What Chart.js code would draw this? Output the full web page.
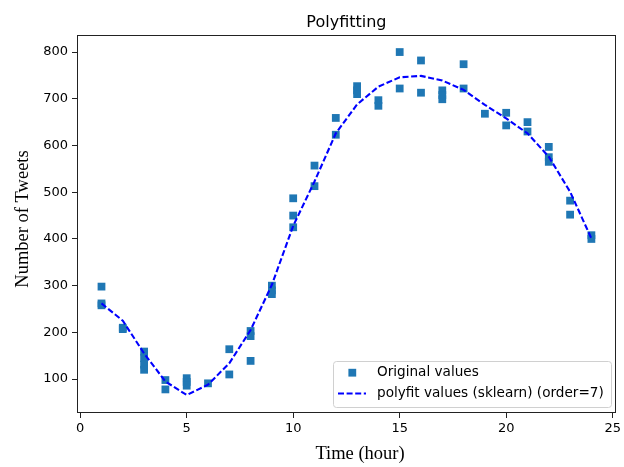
<!DOCTYPE html>
<html>
<head>
<meta charset="utf-8">
<script src="https://cdn.jsdelivr.net/npm/chart.js@4/dist/chart.umd.min.js"></script>
<style>
  html, body { margin: 0; padding: 0; background: #fff; }
  #wrap { width: 624px; height: 467px; position: relative; }
</style>
</head>
<body>
<div id="wrap"><canvas id="c" width="624" height="467"></canvas></div>
<script>
// ---- data ----
const chartTitle = "Polyfitting";
const xAxisLabel = "Time (hour)";
const yAxisLabel = "Number of Tweets";
const obsLabel = "Original values";
const fitLabel = "polyfit values (sklearn) (order=7)";

const obsHours = [
  1,1,1, 2,2, 3,3,3,3, 4,4, 5,5,5, 6, 7,7, 8,8,8, 9,9,9, 10,10,10,
  11,11, 12,12, 13,13,13, 14,14, 15,15, 16,16, 17,17,17, 18,18, 19,
  20,20, 21,21, 22,22,22, 23,23, 24,24
];
const obsTweets = [
  298,262,258, 210,207, 159,145,131,120, 98,78, 102,94,86, 91, 164,110, 203,192,139, 300,290,282, 487,450,425,
  557,513, 659,623, 727,718,710, 697,685, 800,722, 782,713, 718,708,699, 774,722, 668,
  670,643, 650,630, 597,575,565, 482,452, 408,400
];

const fitHours = [1,2,3,4,5,6,7,8,9,10,11,12,13,14,15,16,17,18,19,20,21,22,23,24];
const fitTweets = [262,225,155,95,66,88,134,205,302,428,523,626,688,726,746,749,739,719,687,658,626,576,501,401];

const xTicks = [0,5,10,15,20,25];
const yTicks = [100,200,300,400,500,600,700,800];
const xMin = -0.15, xMax = 25.15;
const yMin = 27.5, yMax = 836.5;

// ---- styles ----
const obsColor = '#1f77b4';
const fitColor = '#0000ff';
const tickFont = { family: 'DejaVu Sans', size: 13 };

const decorPlugin = {
  id: 'decor',
  afterDraw(chart) {
    const ctx = chart.ctx;
    const a = chart.chartArea;
    ctx.save();
    // frame
    ctx.strokeStyle = '#222';
    ctx.lineWidth = 1;
    ctx.strokeRect(Math.round(a.left) + 0.5, Math.round(a.top) + 0.5,
                   Math.round(a.right - a.left) - 1, Math.round(a.bottom - a.top) - 1);
    // title
    ctx.fillStyle = '#000';
    ctx.font = '16px "DejaVu Sans"';
    ctx.textAlign = 'center';
    ctx.textBaseline = 'alphabetic';
    ctx.fillText(chartTitle, (a.left + a.right) / 2, 27);
    // axis labels
    ctx.font = '18.5px "Liberation Serif"';
    ctx.textBaseline = 'middle';
    ctx.fillText(xAxisLabel, 360, 454);
    ctx.save();
    ctx.translate(23, 219);
    ctx.rotate(-Math.PI / 2);
    ctx.fillText(yAxisLabel, 0, 0);
    ctx.restore();
    // legend
    const lx = 333.5, ly = 361.5, lw = 278, lh = 46, r = 3;
    ctx.beginPath();
    ctx.moveTo(lx + r, ly);
    ctx.lineTo(lx + lw - r, ly);
    ctx.arcTo(lx + lw, ly, lx + lw, ly + r, r);
    ctx.lineTo(lx + lw, ly + lh - r);
    ctx.arcTo(lx + lw, ly + lh, lx + lw - r, ly + lh, r);
    ctx.lineTo(lx + r, ly + lh);
    ctx.arcTo(lx, ly + lh, lx, ly + lh - r, r);
    ctx.lineTo(lx, ly + r);
    ctx.arcTo(lx, ly, lx + r, ly, r);
    ctx.closePath();
    ctx.fillStyle = 'rgba(255,255,255,0.8)';
    ctx.fill();
    ctx.strokeStyle = '#d0d0d0';
    ctx.lineWidth = 1;
    ctx.stroke();
    // marker
    const ds0 = chart.data.datasets[0];
    ctx.fillStyle = ds0.backgroundColor;
    ctx.fillRect(352.3 - 3.9, 372.7 - 3.9, 7.8, 7.8);
    // dashed line sample
    const ds1 = chart.data.datasets[1];
    ctx.strokeStyle = ds1.borderColor;
    ctx.lineWidth = ds1.borderWidth;
    ctx.setLineDash(ds1.borderDash);
    ctx.beginPath();
    ctx.moveTo(338, 393.5);
    ctx.lineTo(366, 393.5);
    ctx.stroke();
    ctx.setLineDash([]);
    // texts
    ctx.fillStyle = '#000';
    ctx.font = '13.6px "DejaVu Sans"';
    ctx.textAlign = 'left';
    ctx.textBaseline = 'middle';
    ctx.fillText(ds0.label, 377, 372.5);
    ctx.fillText(ds1.label, 377, 393);
    ctx.restore();
  }
};

new Chart(document.getElementById('c'), {
  type: 'scatter',
  data: {
    datasets: [
      {
        label: obsLabel,
        data: obsHours.map((h, i) => ({ x: h, y: obsTweets[i] })),
        backgroundColor: obsColor,
        borderColor: obsColor,
        borderWidth: 0,
        pointStyle: 'rect',
        pointRadius: 5.5,
        pointHoverRadius: 5.5,
        showLine: false,
        order: 2
      },
      {
        label: fitLabel,
        data: fitHours.map((h, i) => ({ x: h, y: fitTweets[i] })),
        borderColor: fitColor,
        backgroundColor: fitColor,
        borderWidth: 2.1,
        borderDash: [6, 2.6],
        pointRadius: 0,
        showLine: true,
        tension: 0,
        fill: false,
        order: 1
      }
    ]
  },
  options: {
    responsive: false,
    animation: false,
    layout: { padding: { top: 35, right: 6, left: 0, bottom: 0 } },
    plugins: {
      legend: { display: false },
      title: { display: false },
      tooltip: { enabled: false }
    },
    scales: {
      x: {
        type: 'linear',
        min: xMin, max: xMax,
        afterBuildTicks: s => { s.ticks = xTicks.map(v => ({ value: v })); },
        afterFit: s => { s.height = 54; },
        grid: { display: true, drawOnChartArea: false, drawTicks: true, tickLength: 5, color: '#222', lineWidth: 1 },
        border: { display: false },
        ticks: { font: tickFont, color: '#000', padding: 3, maxRotation: 0, autoSkip: false }
      },
      y: {
        type: 'linear',
        min: yMin, max: yMax,
        afterBuildTicks: s => { s.ticks = yTicks.map(v => ({ value: v })); },
        afterFit: s => { s.width = 77; },
        grid: { display: true, drawOnChartArea: false, drawTicks: true, tickLength: 5, color: '#222', lineWidth: 1 },
        border: { display: false },
        ticks: { font: tickFont, color: '#000', padding: 4, autoSkip: false }
      }
    }
  },
  plugins: [decorPlugin]
});
</script>
</body>
</html>
